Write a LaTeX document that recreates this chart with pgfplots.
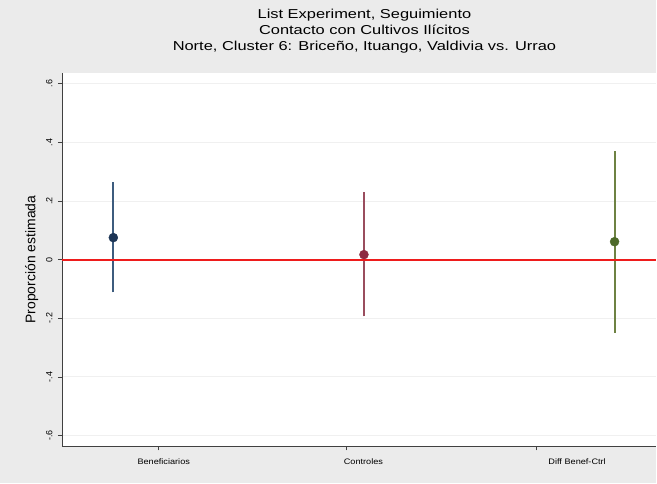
\documentclass[border=0pt]{standalone}
\usepackage{pgfplots}
\pgfplotsset{compat=1.18}
\usepackage{fontspec}
\setmainfont{Liberation Sans}
\definecolor{bggray}{HTML}{EBEBEB}
\definecolor{zeroRed}{HTML}{EE1C1C}
\definecolor{cBen}{HTML}{1C3556}
\definecolor{cBenL}{HTML}{3D5C7E}
\definecolor{cCon}{HTML}{8E2A42}
\definecolor{cConL}{HTML}{9A4D5E}
\definecolor{cDif}{HTML}{4E6A2A}
\definecolor{cDifL}{HTML}{6E8243}
\begin{document}
\begin{tikzpicture}[x=1bp,y=1bp]
\fill[bggray] (0,0) rectangle (657,484);
\begin{axis}[
  at={(62bp,37bp)}, anchor=south west,
  scale only axis, width=595bp, height=374bp,
  xmin=62, xmax=657, ymin=-0.637, ymax=0.637,
  axis x line*=bottom, axis y line*=left,
  axis line style={black!75, line width=0.8pt},
  axis background/.style={fill=white},
  xtick={164,364,578}, xticklabels={Beneficiarios,Controles,Diff Benef-Ctrl},
  major x tick style={draw=none},
  extra x ticks={159,347,537}, extra x tick labels={},
  extra x tick style={major tick length=4bp, major x tick style={draw=black!75, line width=0.6pt}, grid=none},
  xticklabel style={font=\fontsize{8}{9}\selectfont, xscale=1.15},
  xticklabel shift=5bp,
  ytick={-0.6,-0.4,-0.2,0,0.2,0.4,0.6},
  yticklabels={-.6,-.4,-.2,0,.2,.4,.6},
  yticklabel style={rotate=90, anchor=south, font=\fontsize{9}{10}\selectfont},
  yticklabel shift=2bp,
  major y tick style={black!75, line width=0.6pt},
  tick align=outside, major tick length=4bp,
  ymajorgrids, grid style={black!6, line width=0.8pt},
  ylabel={Proporción estimada},
  ylabel style={font=\fontsize{14}{15}\selectfont},
  ylabel shift=1bp,
  clip=false,
]
% CIs
\addplot[draw=cBenL, line width=2bp] coordinates {(113.5,-0.112) (113.5,0.266)};
\addplot[draw=cConL, line width=2bp] coordinates {(364.5,-0.194) (364.5,0.232)};
\addplot[draw=cDifL, line width=2bp] coordinates {(615.5,-0.249) (615.5,0.371)};
% zero line
\addplot[draw=zeroRed, line width=2bp] coordinates {(62,0) (657,0)};
% points
\addplot[only marks, mark=*, mark size=4.5bp, color=cBen] coordinates {(113.5,0.075)};
\addplot[only marks, mark=*, mark size=4.5bp, color=cCon] coordinates {(364.5,0.017)};
\addplot[only marks, mark=*, mark size=4.5bp, color=cDif] coordinates {(615.5,0.061)};
\end{axis}
\node[align=center, font=\fontsize{13}{16}\selectfont, xscale=1.27, anchor=center] at (365,453) {List Experiment, Seguimiento\\Contacto con Cultivos Ilícitos\\Norte, Cluster 6: Briceño, Ituango, Valdivia vs. Urrao};
\end{tikzpicture}
\end{document}
